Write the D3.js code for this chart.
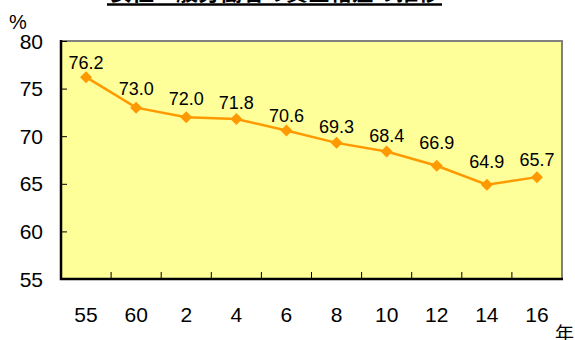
<!DOCTYPE html>
<html><head><meta charset="utf-8">
<script src="https://cdn.jsdelivr.net/npm/d3@7"></script>
<style>body{margin:0;background:#fff}svg{display:block}</style>
</head><body>
<svg id="c" width="575" height="340"></svg>
<script>
const title = "女性一般労働者の賃金格差の推移";
const categories = ["55","60","2","4","6","8","10","12","14","16"];
const values = [76.2,73.0,72.0,71.8,70.6,69.3,68.4,66.9,64.9,65.7];
const yTicks = [55,60,65,70,75,80];

const svg = d3.select("#c");
const L=61, R=562, T=41, B=279;
const x = d3.scaleBand().domain(categories).range([L,R]);
const y = d3.scaleLinear().domain([55,80]).range([B,T]);
const font = "'Liberation Sans', Arial, sans-serif";
// label vertical gaps above each marker (layout, as placed in the original)
const labelGap = [8,13,12,10,8,10,9,17,17,11];

// title (cut off at top)
svg.append("text").attr("x",275).attr("y",-0.5).attr("text-anchor","middle")
  .attr("font-family","'Noto Sans CJK JP'").attr("font-weight","bold").attr("font-size",22)
  .attr("fill","#000").text(title);
svg.append("line").attr("x1",107).attr("x2",442).attr("y1",4.5).attr("y2",4.5)
  .attr("stroke","#000").attr("stroke-width",2.5);

// plot background
svg.append("rect").attr("x",L).attr("y",T).attr("width",R-L).attr("height",B-T).attr("fill","#FFFF99");
svg.append("path").attr("d",`M${L},${T}H${R}V${B}`).attr("fill","none").attr("stroke","#808080").attr("stroke-width",2);

// y axis
const ya = svg.append("g").attr("transform",`translate(${L},0)`)
  .call(d3.axisRight(y).tickValues(yTicks).tickSize(6).tickFormat(""));
ya.select(".domain").remove();
ya.selectAll("line").attr("stroke","#000").attr("stroke-width",1);
svg.append("g").selectAll("text").data(yTicks).join("text")
  .attr("x",43).attr("y",d=>y(d)).attr("dy","0.36em").attr("text-anchor","end")
  .attr("font-family",font).attr("font-size",21).text(d=>d);

// x ticks between categories
const bounds = categories.slice(1).map(c=>x(c));
svg.append("g").selectAll("line").data(bounds).join("line")
  .attr("x1",d=>d).attr("x2",d=>d).attr("y1",B).attr("y2",B-7).attr("stroke","#000").attr("stroke-width",1);
svg.append("g").selectAll("text").data(categories).join("text")
  .attr("x",d=>x(d)+x.bandwidth()/2).attr("y",322).attr("text-anchor","middle")
  .attr("font-family",font).attr("font-size",21).text(d=>d);

svg.append("path").attr("d",`M${L},${T-1}V${B}H${R+1}`).attr("fill","none").attr("stroke","#000").attr("stroke-width",2.5);

// units
svg.append("text").attr("x",9).attr("y",29).attr("font-family",font).attr("font-size",20).text("%");
svg.append("text").attr("x",555).attr("y",341).attr("font-family","'Noto Sans CJK JP'").attr("font-size",19).text("年");

// line
const cx = (d,i)=>x(categories[i])+x.bandwidth()/2;
const line = d3.line().x((d,i)=>cx(d,i)).y(d=>y(d));
svg.append("path").datum(values).attr("d",line).attr("fill","none").attr("stroke","#FF9900").attr("stroke-width",2.5);
svg.append("g").selectAll("path").data(values).join("path")
  .attr("d",(d,i)=>{const X=cx(d,i),Y=y(d),s=6;return `M${X},${Y-s}L${X+s},${Y}L${X},${Y+s}L${X-s},${Y}Z`;})
  .attr("fill","#FF9900");
svg.append("g").selectAll("text").data(values).join("text")
  .attr("x",(d,i)=>cx(d,i)).attr("y",(d,i)=>y(d)-labelGap[i]).attr("text-anchor","middle")
  .attr("font-family",font).attr("font-size",18).text(d=>d.toFixed(1));
</script>
</body></html>
